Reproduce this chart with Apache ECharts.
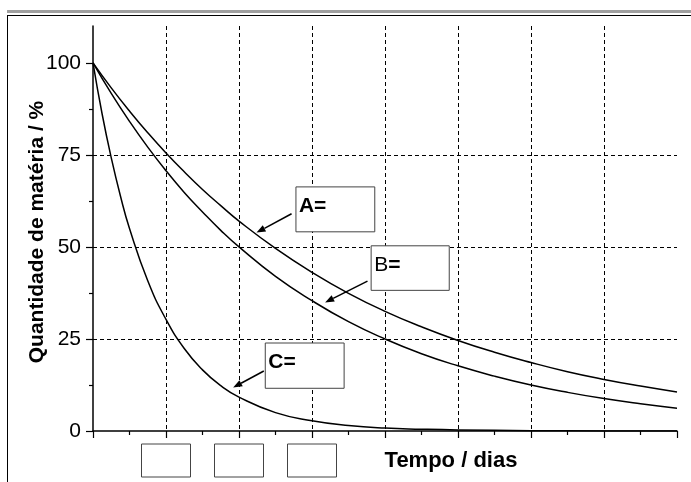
<!DOCTYPE html>
<html>
<head>
<meta charset="utf-8">
<script src="https://cdn.jsdelivr.net/npm/echarts@6/dist/echarts.min.js"></script>
<style>
  html, body { margin: 0; padding: 0; background: #fff; }
  #chart { width: 691px; height: 482px; }
</style>
</head>
<body>
<div id="chart"></div>
<script>
// tempo (dias) e quantidade de matéria (%)
var tempoAB = [0, 0.25, 0.5, 0.75, 1, 1.25, 1.5, 1.75, 2, 2.5, 3, 3.5, 4, 4.5, 5, 5.5, 6, 6.5, 7, 7.5, 8];
var serieA = [100, 93.2, 86.9, 81.0, 75.5, 70.4, 65.6, 61.2, 57.0, 49.6, 43.1, 37.4, 32.5, 28.3, 24.6, 21.4, 18.6, 16.1, 14.0, 12.2, 10.6];
var serieB = [100, 91.7, 84.1, 77.1, 70.7, 64.8, 59.5, 54.5, 50.0, 42.0, 35.4, 29.7, 25.0, 21.0, 17.7, 14.9, 12.5, 10.5, 8.8, 7.4, 6.2];
var tempoC = [0, 0.125, 0.25, 0.375, 0.5, 0.75, 1, 1.25, 1.5, 1.75, 2, 2.5, 3, 3.5, 4, 4.5, 5, 6, 7, 8];
var serieC = [100, 86.1, 74.2, 63.9, 55.0, 40.8, 30.3, 22.4, 16.6, 12.3, 9.2, 5.0, 2.8, 1.5, 0.8, 0.5, 0.3, 0.1, 0.02, 0.01];

var yTicks = [0, 25, 50, 75, 100];
var yMinor = [12.5, 37.5, 62.5, 87.5];
var xBoxes = [1, 2, 3];   // caixas vazias sob o eixo x

// anotações: texto, canto da caixa (sup. esq. / inf. dir.), cauda e ponta da seta (coords. de dados)
var notas = [
  { txt: '{b|A=}', box: [[2.78, 66.3], [3.86, 54.1]], de: [2.72, 59.0], para: [2.24, 53.9] },
  { txt: '{n|B}{b|=}', box: [[3.81, 50.3], [4.88, 38.2]], de: [3.76, 40.7], para: [3.18, 34.9] },
  { txt: '{b|C=}', box: [[2.36, 23.9], [3.44, 11.6]], de: [2.34, 16.3], para: [1.92, 11.8] }
];

function pares(t, v) {
  return t.map(function (x, i) { return [x, v[i]]; });
}

var chart = echarts.init(document.getElementById('chart'));
var font = 'Liberation Sans, Arial, sans-serif';
var linha = { color: '#000', width: 1.5 };

var option = {
  animation: false,
  grid: { left: 93, right: 14, top: 26, bottom: 51, outerBoundsMode: 'none', containLabel: false },
  xAxis: {
    type: 'value', min: 0, max: 8, interval: 1,
    name: 'Tempo / dias', nameLocation: 'middle', nameGap: 19, nameMoveOverlap: false,
    nameTextStyle: { fontFamily: font, fontSize: 22, fontWeight: 'bold', color: '#000', padding: [0, 0, 0, 132] },
    axisLine: { lineStyle: { color: '#000', width: 1.5 } },
    axisTick: { length: 7, lineStyle: { color: '#000', width: 1.2 } },
    minorTick: { show: true, splitNumber: 2, length: 4, lineStyle: { color: '#000', width: 1.2 } },
    splitLine: { show: true, showMinLine: false, showMaxLine: false, lineStyle: { color: '#000', width: 1, type: [4, 3] } },
    axisLabel: {
      margin: 13,
      formatter: function (v) { return xBoxes.indexOf(v) >= 0 ? '{b| }' : ''; },
      rich: { b: { width: 49, height: 33, borderColor: '#444', borderWidth: 1 } }
    }
  },
  yAxis: [{
    type: 'value', min: 0, max: 110, interval: 25,
    name: 'Quantidade de matéria / %', nameLocation: 'middle', nameGap: 45, nameMoveOverlap: false,
    nameTextStyle: { fontFamily: font, fontSize: 21, fontWeight: 'bold', color: '#000', padding: [0, 7, 0, 0] },
    axisLine: { show: true, lineStyle: { color: '#000', width: 1.5 } },
    axisTick: { show: true, length: 7, customValues: yTicks, lineStyle: { color: '#000', width: 1.2 } },
    axisLabel: { customValues: yTicks, margin: 12, fontFamily: font, fontSize: 21, color: '#000' },
    splitLine: { show: true, showMinLine: false, showMaxLine: false, lineStyle: { color: '#000', width: 1, type: [4, 3] } }
  }, {
    type: 'value', min: 0, max: 110, interval: 25, position: 'left',
    axisLine: { show: false },
    axisTick: { show: true, length: 4, customValues: yMinor, lineStyle: { color: '#000', width: 1.2 } },
    axisLabel: { show: false },
    splitLine: { show: false }
  }],
  series: [
    { name: 'A', type: 'line', smooth: true, symbol: 'none', lineStyle: linha, data: pares(tempoAB, serieA) },
    { name: 'B', type: 'line', smooth: true, symbol: 'none', lineStyle: linha, data: pares(tempoAB, serieB) },
    { name: 'C', type: 'line', smooth: true, symbol: 'none', lineStyle: linha, data: pares(tempoC, serieC) }
  ]
};
chart.setOption(option);

function px(p) { return chart.convertToPixel({ gridIndex: 0 }, p); }

var graficos = [
  { type: 'rect', shape: { x: 7, y: 10, width: 684, height: 3 }, style: { fill: '#a0a0a0' } },
  { type: 'line', shape: { x1: 7, y1: 15.5, x2: 691, y2: 15.5 }, style: { stroke: '#000', lineWidth: 1 } },
  { type: 'line', shape: { x1: 7.5, y1: 15, x2: 7.5, y2: 482 }, style: { stroke: '#000', lineWidth: 1 } }
];

notas.forEach(function (n) {
  var a = px(n.box[0]), b = px(n.box[1]);
  graficos.push({
    type: 'rect', shape: { x: a[0], y: a[1], width: b[0] - a[0], height: b[1] - a[1] },
    style: { fill: '#fff', stroke: '#444', lineWidth: 1 }, z: 10
  });
  graficos.push({
    type: 'text', x: a[0] + 3, y: (a[1] + b[1]) / 2 - 3, z: 11,
    style: {
      text: n.txt, verticalAlign: 'middle', align: 'left',
      rich: {
        b: { fontFamily: font, fontSize: 21, fontWeight: 'bold', fill: '#000' },
        n: { fontFamily: font, fontSize: 21, fill: '#000' }
      }
    }
  });
  var p0 = px(n.de), p1 = px(n.para);
  var ang = Math.atan2(p1[1] - p0[1], p1[0] - p0[0]);
  var L = 9, W = 3.5;
  var bx = p1[0] - L * Math.cos(ang), by = p1[1] - L * Math.sin(ang);
  graficos.push({
    type: 'line', shape: { x1: p0[0], y1: p0[1], x2: bx, y2: by },
    style: { stroke: '#000', lineWidth: 1.5 }, z: 10
  });
  graficos.push({
    type: 'polygon', z: 10,
    shape: { points: [p1, [bx - W * Math.sin(ang), by + W * Math.cos(ang)], [bx + W * Math.sin(ang), by - W * Math.cos(ang)]] },
    style: { fill: '#000' }
  });
});

chart.setOption({ graphic: graficos });
</script>
</body>
</html>
